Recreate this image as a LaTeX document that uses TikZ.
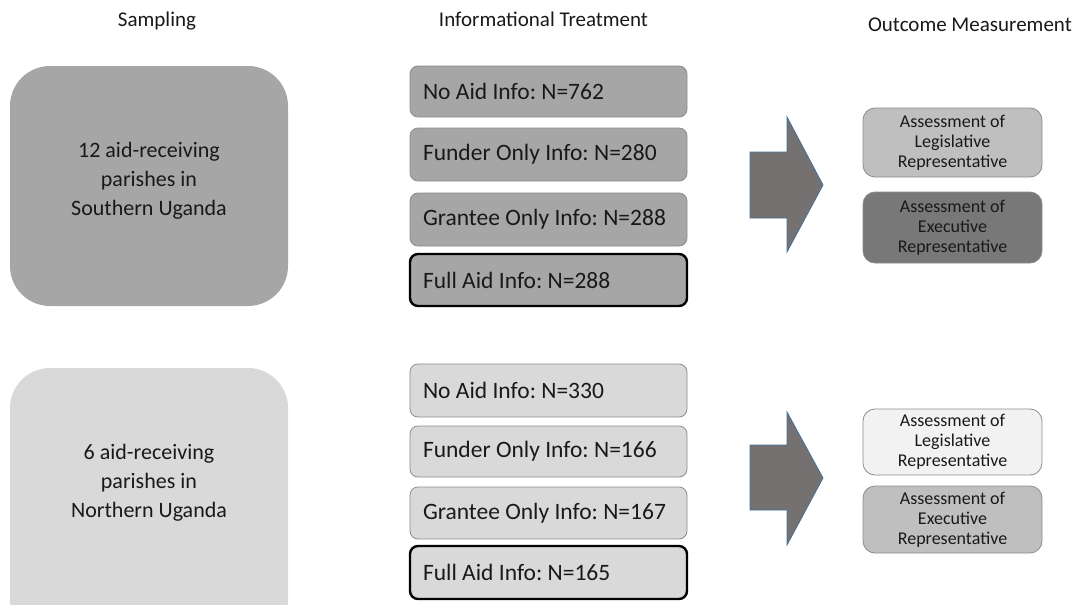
\documentclass[tikz,border=0pt]{standalone}
\usepackage{fontspec}
\setmainfont{Carlito}
\frenchspacing
\begin{document}
\begin{tikzpicture}[x=1pt,y=-1pt,
  title/.style={font=\fontsize{21}{25}\selectfont, text=black!90, anchor=base, inner sep=0pt},
  bigtxt/.style={align=center, font=\fontsize{22}{29}\selectfont, text=black!90},
  trt/.style={rounded corners=8pt, draw=black!45, line width=0.8pt},
  full/.style={trt, draw=black, line width=2.4pt},
  trttxt/.style={anchor=west, font=\fontsize{23.5}{27}\selectfont, text=black!90},
  outc/.style={rounded corners=12pt, draw=black!45, line width=0.8pt},
  outtxt/.style={align=center, font=\fontsize{18}{20}\selectfont, text=black!90},
  bigarrow/.style={fill=arrowgray, draw=arrowblue, line width=0.8pt}]
\definecolor{arrowgray}{HTML}{767171}
\definecolor{arrowblue}{HTML}{41719C}
\useasboundingbox (0,0) rectangle (1077,605);
% titles
\node[title] (t1) at (157,27) {Sampling};
\node[title] (t2) at (543.5,27) {Informational Treatment};
\node[title, anchor=base east] (t3) at (1072,31) {Outcome Measurement};
% big boxes
\path[fill={rgb,255:red,166;green,166;blue,166}, rounded corners=40pt] (10,66) rectangle (288,306);
\node[bigtxt] (s) at (149,181) {12 aid-receiving\\parishes in\\Southern Uganda};
\path[fill={rgb,255:red,217;green,217;blue,217}, rounded corners=40pt] (10,368) rectangle (288,640);
\node[bigtxt] (n) at (149,483) {6 aid-receiving\\parishes in\\Northern Uganda};
% treatment boxes
\colorlet{dg}{black!35}
\colorlet{lg}{black!15}
\foreach \ya/\yb/\txt/\st in {66/117/{No Aid Info: N=762}/trt, 128/181/{Funder Only Info: N=280}/trt, 193/246/{Grantee Only Info: N=288}/trt, 254/306/{Full Aid Info: N=288}/full}{
  \draw[\st, fill=dg] (410,\ya) rectangle (687,\yb);
  \node[trttxt] at (419.5,{(\ya+\yb)/2}) {\txt};
}
\foreach \ya/\yb/\txt/\st in {364/417/{No Aid Info: N=330}/trt, 426/477/{Funder Only Info: N=166}/trt, 487/539/{Grantee Only Info: N=167}/trt, 546/599/{Full Aid Info: N=165}/full}{
  \draw[\st, fill=lg] (410,\ya) rectangle (687,\yb);
  \node[trttxt] at (419.5,{(\ya+\yb)/2}) {\txt};
}
% arrows
\draw[bigarrow] (750,152) -- (787,152) -- (787,117) -- (823,185) -- (787,252) -- (787,218) -- (750,218) -- cycle;
\draw[bigarrow] (750,445) -- (787,445) -- (787,412) -- (823,478) -- (787,545) -- (787,510) -- (750,510) -- cycle;
% outcome boxes
\draw[outc, fill=black!25] (863,108) rectangle (1042,177);
\node[outtxt] (o1) at (952.5,142.5) {Assessment of\\Legislative\\Representative};
\draw[outc, fill=black!53] (863,192) rectangle (1042,263);
\node[outtxt] (o2) at (952.5,227.5) {Assessment of\\Executive\\Representative};
\draw[outc, fill=black!5] (863,409) rectangle (1042,475);
\node[outtxt] (o3) at (952.5,442) {Assessment of\\Legislative\\Representative};
\draw[outc, fill=black!25] (863,486) rectangle (1042,553);
\node[outtxt] (o4) at (952.5,519.5) {Assessment of\\Executive\\Representative};
\end{tikzpicture}
\end{document}
